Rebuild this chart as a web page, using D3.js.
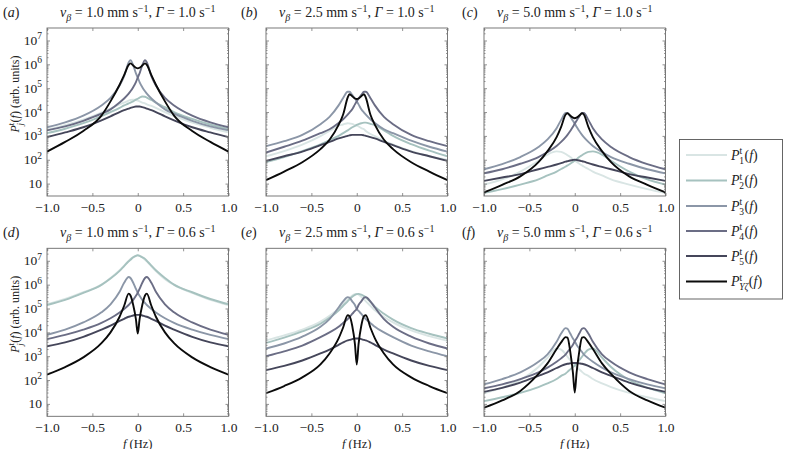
<!DOCTYPE html>
<html><head><meta charset="utf-8">
<script src="https://cdn.jsdelivr.net/npm/d3@7"></script>
<style>body{margin:0;background:#fff}</style></head>
<body>
<svg id="chart" width="785" height="449"></svg>
<script>
// ---------- data ----------
const freq = [-1,-0.8,-0.6,-0.4,-0.3,-0.2,-0.15,-0.1,-0.08,-0.05,-0.02,0,0.02,0.05,0.08,0.1,0.15,0.2,0.3,0.4,0.6,0.8,1];
const xTickValues = [-1,-0.5,0,0.5,1];
const xTickLabels = ["\u22121.0","\u22120.5","0","0.5","1.0"];
const yTickValues = [1e7,1e6,1e5,1e4,1e3,1e2,10];
const yTickExponents = ["7","6","5","4","3","2",""];
const panelLetters = ["a","b","c","d","e","f"];
const vBeta = ["1.0","2.5","5.0","1.0","2.5","5.0"];
const gammaVals = ["1.0","1.0","1.0","0.6","0.6","0.6"];
const seriesSubs = ["1","2","3","4","5","Y\u03B6"];
const seriesColors = ["#d9e5e4","#a6c2bf","#8b96a7","#6b6d85","#45465a","#0b0b0b"];

const a_P1 = [1.8e3,2.8e3,4.8e3,9.5e3,1.4e4,2.1e4,2.5e4,3.0e4,3.2e4,3.3e4,3.2e4,3.0e4,2.8e4,2.5e4,2.3e4,2.1e4,1.8e4,1.5e4,1.0e4,6.9e3,3.6e3,2.2e3,1.4e3];
const a_P2 = [1.3e3,2.0e3,3.4e3,6.8e3,1.0e4,1.5e4,1.9e4,2.3e4,2.5e4,2.8e4,3.3e4,3.6e4,4.0e4,4.5e4,4.4e4,4.0e4,3.2e4,2.5e4,1.6e4,1.0e4,5.2e3,3.0e3,1.9e3];
const a_P3 = [2.3e3,3.7e3,7.1e3,1.9e4,3.9e4,1.3e5,3.2e5,1.2e6,1.5e6,9.1e5,4.2e5,2.8e5,1.8e5,1.1e5,7.4e4,5.9e4,3.7e4,2.5e4,1.3e4,8.5e3,4.3e3,2.5e3,1.7e3];
const a_P4 = [1.7e3,2.5e3,4.3e3,8.5e3,1.3e4,2.5e4,3.7e4,5.9e4,7.4e4,1.1e5,1.8e5,2.8e5,4.2e5,9.1e5,1.5e6,1.2e6,3.2e5,1.3e5,3.9e4,1.9e4,7.1e3,3.7e3,2.3e3];
const a_P5 = [890,1.4e3,2.3e3,4.5e3,6.6e3,1.0e4,1.2e4,1.4e4,1.5e4,1.6e4,1.7e4,1.7e4,1.7e4,1.6e4,1.5e4,1.4e4,1.2e4,1.0e4,6.6e3,4.5e3,2.3e3,1.4e3,890];
const a_PY = [220,560,1.6e3,7.1e3,2.8e4,1.4e5,3.5e5,9.5e5,1.1e6,8.9e5,7.2e5,6.8e5,7.2e5,8.9e5,1.1e6,9.5e5,3.5e5,1.4e5,2.8e4,7.1e3,1.6e3,560,220];

const b_P1 = [140,230,430,980,1.6e3,2.7e3,3.0e3,3.4e3,3.3e3,3.2e3,2.8e3,2.7e3,2.5e3,2.1e3,1.9e3,1.6e3,1.2e3,980,630,430,230,140,98];
const b_P2 = [79,130,230,440,660,1.0e3,1.3e3,1.7e3,1.9e3,2.3e3,2.6e3,2.9e3,3.1e3,3.4e3,3.6e3,3.6e3,3.2e3,2.8e3,1.7e3,1.0e3,450,240,140];
const b_P3 = [370,600,1.1e3,3.1e3,6.3e3,1.9e4,3.9e4,7.1e4,7.1e4,5.2e4,3.7e4,2.8e4,2.1e4,1.3e4,9.5e3,7.8e3,5.0e3,3.5e3,1.9e3,1.3e3,630,350,220];
const b_P4 = [200,350,630,1.3e3,1.9e3,3.5e3,5.0e3,7.8e3,9.5e3,1.3e4,2.1e4,2.8e4,3.7e4,5.2e4,7.1e4,7.1e4,3.9e4,1.9e4,6.3e3,3.1e3,1.1e3,600,370];
const b_P5 = [89,140,220,410,560,780,890,1.0e3,1.05e3,1.1e3,1.1e3,1.1e3,1.1e3,1.1e3,1.05e3,1.0e3,890,780,560,410,220,140,89];
const b_PY = [14,32,79,280,690,2.9e3,7.9e3,4.0e4,5.6e4,4.6e4,3.7e4,3.5e4,3.7e4,4.6e4,5.6e4,4.0e4,7.9e3,2.9e3,690,280,79,32,14];

const c_P1 = [9.1,15,32,91,165,225,215,175,155,130,105,91,81,68,58,52,41,32,22,15,9.1,5.9,4.1];
const c_P2 = [4.1,5.9,9.1,15,22,32,41,52,58,68,81,91,105,130,155,175,215,225,165,91,32,15,9.1];
const c_P3 = [40,66,130,340,710,2.1e3,4.7e3,9.1e3,9.1e3,6.6e3,4.3e3,3.3e3,2.4e3,1.6e3,1.1e3,890,560,380,210,130,68,40,27];
const c_P4 = [27,40,68,130,210,380,560,890,1.1e3,1.6e3,2.4e3,3.3e3,4.3e3,6.6e3,9.1e3,9.1e3,4.7e3,2.1e3,710,340,130,66,40];
const c_P5 = [13,18,25,40,50,63,72,83,87,93,98,100,98,93,87,83,72,63,50,40,25,18,13];
const c_PY = [4.3,8.9,20,79,230,890,2.4e3,7.9e3,8.9e3,7.1e3,5.8e3,5.5e3,5.8e3,7.1e3,8.9e3,7.9e3,2.4e3,890,230,79,20,8.9,4.3];

const d_P1 = [1.5e5,2.5e5,4.8e5,1.0e6,1.9e6,4.0e6,6.3e6,1.0e7,1.2e7,1.4e7,1.6e7,1.7e7,1.6e7,1.4e7,1.1e7,9.5e6,5.9e6,3.7e6,1.7e6,9.8e5,4.5e5,2.3e5,1.4e5];
const d_P2 = [1.4e5,2.3e5,4.5e5,9.8e5,1.8e6,3.8e6,6.0e6,9.5e6,1.1e7,1.4e7,1.6e7,1.7e7,1.6e7,1.4e7,1.2e7,1.0e7,6.3e6,4.0e6,1.9e6,1.0e6,4.8e5,2.5e5,1.5e5];
const d_P3 = [7.9e3,1.3e4,2.6e4,6.9e4,1.5e5,5.0e5,1.2e6,2.1e6,1.9e6,1.2e6,6.6e5,4.6e5,3.4e5,2.3e5,1.7e5,1.4e5,9.5e4,6.8e4,3.9e4,2.5e4,1.3e4,7.8e3,5.2e3];
const d_P4 = [5.2e3,7.8e3,1.3e4,2.5e4,3.9e4,6.8e4,9.5e4,1.4e5,1.7e5,2.3e5,3.4e5,4.6e5,6.6e5,1.2e6,1.9e6,2.1e6,1.2e6,5.0e5,1.5e5,6.9e4,2.6e4,1.3e4,7.9e3];
const d_P5 = [2.6e3,3.8e3,6.5e3,1.3e4,1.9e4,3.0e4,3.7e4,4.5e4,4.7e4,5.1e4,5.4e4,5.4e4,5.4e4,5.1e4,4.7e4,4.5e4,3.7e4,3.0e4,1.9e4,1.3e4,6.5e3,3.8e3,2.6e3];
const d_PY = [170,350,890,3.5e3,1.0e4,4.5e4,1.3e5,4.2e5,3.5e5,1.4e5,3.5e4,8.9e3,3.5e4,1.4e5,3.5e5,4.2e5,1.3e5,4.5e4,1.0e4,3.5e3,890,350,170];

const e_P1 = [4.6e3,7.4e3,1.3e4,2.8e4,4.9e4,9.8e4,1.5e5,2.4e5,2.8e5,3.5e5,4.0e5,4.1e5,3.8e5,3.1e5,2.4e5,2.0e5,1.3e5,8.3e4,4.4e4,2.6e4,1.2e4,6.9e3,4.4e3];
const e_P2 = [3.6e3,6.0e3,1.1e4,2.3e4,4.1e4,8.1e4,1.3e5,2.0e5,2.4e5,3.1e5,3.7e5,4.0e5,4.1e5,3.8e5,3.3e5,2.9e5,1.9e5,1.2e5,6.0e4,3.4e4,1.5e4,8.7e3,5.5e3];
const e_P3 = [2.1e3,3.4e3,6.6e3,1.7e4,3.6e4,1.1e5,2.0e5,3.0e5,2.8e5,2.0e5,1.4e5,9.5e4,7.9e4,5.9e4,4.4e4,3.6e4,2.5e4,1.7e4,1.0e4,6.3e3,2.8e3,1.6e3,1.0e3];
const e_P4 = [1.0e3,1.6e3,2.8e3,6.3e3,1.0e4,1.7e4,2.5e4,3.6e4,4.4e4,5.9e4,7.9e4,9.5e4,1.4e5,2.0e5,2.8e5,3.0e5,2.0e5,1.1e5,3.6e4,1.7e4,6.6e3,3.4e3,2.1e3];
const e_P5 = [260,390,660,1.3e3,1.9e3,3.0e3,3.8e3,4.6e3,4.8e3,5.2e3,5.5e3,5.5e3,5.5e3,5.2e3,4.8e3,4.6e3,3.8e3,3.0e3,1.9e3,1.3e3,660,390,260];
const e_PY = [28,56,130,450,1.3e3,5.6e3,1.6e4,5.2e4,4.8e4,1.9e4,3.2e3,450,3.2e3,1.9e4,4.8e4,5.2e4,1.6e4,5.6e3,1.3e3,450,130,56,28];

const f_P1 = [28,48,100,350,870,2.1e3,1.9e3,1.2e3,950,680,490,410,350,280,220,190,150,110,72,51,29,19,13];
const f_P2 = [13,19,29,51,72,110,150,190,220,280,350,410,490,680,950,1.2e3,1.9e3,2.1e3,870,350,100,48,28];
const f_P3 = [66,110,210,580,1.2e3,4.0e3,8.9e3,1.5e4,1.4e4,8.9e3,5.5e3,4.2e3,3.0e3,2.1e3,1.5e3,1.2e3,810,580,330,210,110,66,45];
const f_P4 = [45,66,110,210,330,580,810,1.2e3,1.5e3,2.1e3,3.0e3,4.2e3,5.5e3,8.9e3,1.4e4,1.5e4,8.9e3,4.0e3,1.2e3,580,210,110,66];
const f_P5 = [32,47,78,150,210,320,390,460,480,500,520,520,520,500,480,460,390,320,210,150,78,47,32];
const f_PY = [6.9,14,35,180,500,2.0e3,3.8e3,6.3e3,6.0e3,1.6e3,200,30,200,1.6e3,6.0e3,6.3e3,3.8e3,2.0e3,500,180,35,14,6.9];

const panelSeries = [
  [a_P1,a_P2,a_P3,a_P4,a_P5,a_PY],
  [b_P1,b_P2,b_P3,b_P4,b_P5,b_PY],
  [c_P1,c_P2,c_P3,c_P4,c_P5,c_PY],
  [d_P1,d_P2,d_P3,d_P4,d_P5,d_PY],
  [e_P1,e_P2,e_P3,e_P4,e_P5,e_PY],
  [f_P1,f_P2,f_P3,f_P4,f_P5,f_PY]
];

// ---------- layout ----------
const FONT = "'Liberation Serif','Times New Roman','DejaVu Serif',serif";
const colX = [47, 266, 484];
const rowY = [28, 248.3];
const letterX = [3, 241, 462];
const PW = 181.5, PH = 168;
const svg = d3.select("#chart");
svg.append("rect").attr("width",785).attr("height",449).attr("fill","#fff");

const x = d3.scaleLinear().domain([-1,1]).range([0,PW]);
const y = d3.scaleLog().domain([3.02, 3.34e7]).range([PH,0]);
const minorTicks = [];
for (let e = 0; e <= 7; e++) for (let m = 2; m <= 9; m++) { const v = m*Math.pow(10,e); if (v > 3.02 && v < 3.34e7) minorTicks.push(v); }

svg.append("defs").append("clipPath").attr("id","plotclip")
  .append("rect").attr("x",0).attr("y",0).attr("width",PW).attr("height",PH);

const line = d3.line().x((d,k)=>x(freq[k])).y(d=>y(d)).curve(d3.curveMonotoneX);

function addText(sel, parts){
  parts.forEach(p=>{
    const t = sel.append("tspan").text(p.t);
    if (p.i) t.attr("font-style","italic");
    if (p.s) t.attr("font-size", p.s);
    if (p.dy) t.attr("dy", p.dy);
    if (p.dx) t.attr("dx", p.dx);
  });
}

panelSeries.forEach((series,i)=>{
  const col = i%3, row = Math.floor(i/3);
  const g = svg.append("g").attr("transform",`translate(${colX[col]},${rowY[row]})`);

  const lines = g.append("g").attr("clip-path","url(#plotclip)");
  series.forEach((s,j)=>{
    lines.append("path").attr("d", line(s)).attr("fill","none")
      .attr("stroke", seriesColors[j]).attr("stroke-width", 1.9)
      .attr("stroke-linejoin","round");
  });

  g.append("rect").attr("width",PW).attr("height",PH).attr("fill","none").attr("stroke","#6a6a6a").attr("stroke-width",0.9);

  // axes
  const axB = g.append("g").attr("transform",`translate(0,${PH})`)
    .call(d3.axisBottom(x).tickValues(xTickValues).tickSize(-3).tickFormat((d,k)=>xTickLabels[k]));
  const axT = g.append("g").call(d3.axisTop(x).tickValues(xTickValues).tickSize(-3).tickFormat(""));
  const axL = g.append("g").call(d3.axisLeft(y).tickValues(yTickValues).tickSize(-3).tickFormat(""));
  const axR = g.append("g").attr("transform",`translate(${PW},0)`).call(d3.axisRight(y).tickValues(yTickValues).tickSize(-3).tickFormat(""));
  const axLm = g.append("g").call(d3.axisLeft(y).tickValues(minorTicks).tickSize(-1.5).tickFormat(""));
  const axRm = g.append("g").attr("transform",`translate(${PW},0)`).call(d3.axisRight(y).tickValues(minorTicks).tickSize(-1.5).tickFormat(""));
  [axB,axT,axL,axR,axLm,axRm].forEach(a=>{ a.select(".domain").remove(); a.selectAll("line").attr("stroke","#777").attr("stroke-width",0.8); });
  axB.selectAll("text").attr("y",16).attr("dy",0).attr("font-family",FONT).attr("font-size",13.5).attr("fill","#222");

  if (col === 0) {
    yTickValues.forEach((v,k)=>{
      const t = g.append("text").attr("x",-5).attr("y",y(v)+4.5).attr("text-anchor","end")
        .attr("font-family",FONT).attr("font-size",13.5).attr("fill","#222");
      t.append("tspan").text("10");
      if (yTickExponents[k]) t.append("tspan").attr("dy",-5.5).attr("font-size",9.5).text(yTickExponents[k]);
    });
    const yl = svg.append("text").attr("transform",`translate(19,${rowY[row]+66}) rotate(-90)`)
      .attr("text-anchor","middle").attr("font-family",FONT).attr("font-size",12).attr("fill","#222");
    addText(yl,[{t:"P",i:1},{t:"t",s:8.5,dy:-5},{t:"j",i:1,s:8.5,dx:-2.6,dy:8.5},{t:"(",dy:-3.5,dx:0.6},{t:"f",i:1},{t:") (arb. units)"}]);
  }

  // title
  const tt = svg.append("text").attr("x",colX[col]+PW/2).attr("y",rowY[row]-11).attr("text-anchor","middle")
    .attr("font-family",FONT).attr("font-size",14).attr("fill","#222");
  addText(tt,[{t:"v",i:1},{t:"\u03B2",i:1,s:10,dy:3.5},{t:" = "+vBeta[i]+" mm s",dy:-3.5},{t:"\u22121",s:10,dy:-5.5},{t:", ",dy:5.5},{t:"\u0393",i:1},{t:" = "+gammaVals[i]+" s"},{t:"\u22121",s:10,dy:-5.5}]);

  const lt = svg.append("text").attr("x",letterX[col]).attr("y",rowY[row]-11)
    .attr("font-family",FONT).attr("font-size",14).attr("fill","#222");
  addText(lt,[{t:"("},{t:panelLetters[i],i:1},{t:")"}]);

  if (row === 1) {
    const xl = svg.append("text").attr("x",colX[col]+PW/2).attr("y",447.5).attr("text-anchor","middle")
      .attr("font-family",FONT).attr("font-size",12.5).attr("fill","#222");
    addText(xl,[{t:"f",i:1},{t:" (Hz)"}]);
  }
});

// ---------- legend ----------
const lg = svg.append("g");
lg.append("rect").attr("x",679.5).attr("y",139.5).attr("width",103).attr("height",159.5)
  .attr("fill","#fff").attr("stroke","#555").attr("stroke-width",0.9);
const legendY = [155,180.5,206,231,256,281.5];
seriesSubs.forEach((sub,j)=>{
  lg.append("line").attr("x1",686).attr("x2",727).attr("y1",legendY[j]).attr("y2",legendY[j])
    .attr("stroke",seriesColors[j]).attr("stroke-width",1.9);
  const t = lg.append("text").attr("x",731).attr("y",legendY[j]+4.5)
    .attr("font-family",FONT).attr("font-size",14).attr("fill","#222");
  addText(t,[{t:"P",i:1},{t:"t",s:9.5,dy:-5.5},{t:sub,i:sub.length>1?1:0,s:9.5,dx:-3,dy:9.5},{t:"(",dy:-4,dx:0.5},{t:"f",i:1},{t:")"}]);
});
</script>
</body></html>
